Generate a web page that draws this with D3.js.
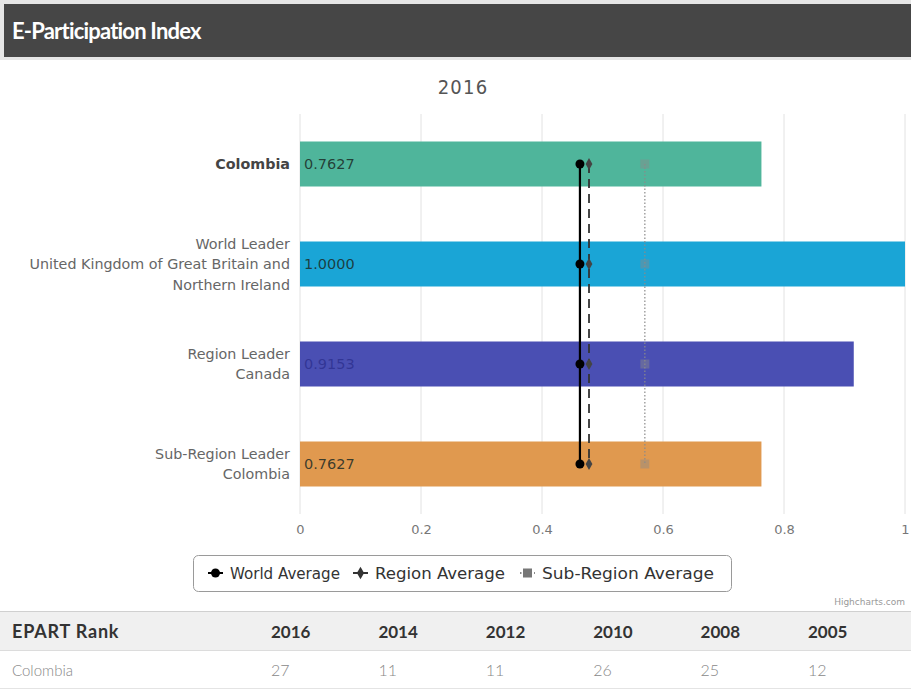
<!DOCTYPE html>
<html>
<head>
<meta charset="utf-8">
<script src="https://cdn.jsdelivr.net/npm/d3@7"></script>
<style>
  body { margin: 0; background: #fff; }
  svg { display: block; }
</style>
</head>
<body>
<div class="canvas"><svg></svg></div>
<script>
const categories = [
    ['Colombia'],
    ['World Leader', 'United Kingdom of Great Britain and', 'Northern Ireland'],
    ['Region Leader', 'Canada'],
    ['Sub-Region Leader', 'Colombia']
];
const values = [0.7627, 1.0000, 0.9153, 0.7627];
const barColors = ['#4fb59b', '#1aa5d6', '#4a4fb3', '#e0994f'];
const worldAverage = [0.4627, 0.4627, 0.4627, 0.4627];
const regionAverage = [0.4777, 0.4777, 0.4777, 0.4777];
const subRegionAverage = [0.5700, 0.5700, 0.5700, 0.5700];
const xTicks = [0, 0.2, 0.4, 0.6, 0.8, 1];
const rankYears = ['2016', '2014', '2012', '2010', '2008', '2005'];
const rankValues = [27, 11, 11, 26, 25, 12];

const width = 911
const height = 689
const svg = d3.select('.canvas').select('svg')
    .attr('width', width)
    .attr('height', height)

// panel header
svg.append('rect').attr('x', 0).attr('y', 0).attr('width', width).attr('height', 60).attr('fill', '#e6e6e6')
svg.append('rect').attr('x', 4).attr('y', 4).attr('width', width - 4).attr('height', 53).attr('fill', '#464646')
svg.append('rect').attr('x', 0).attr('y', 60).attr('width', width).attr('height', 550).attr('fill', '#fff')
svg.append('text')
    .attr('x', 12).attr('y', 39)
    .attr('fill', '#fff')
    .attr('font-family', 'Lato')
    .attr('font-weight', 'bold')
    .attr('font-size', 22)
    .attr('letter-spacing', -0.8)
    .text('E-Participation Index')

svg.append('text')
    .attr('x', 463).attr('y', 94)
    .attr('text-anchor', 'middle')
    .attr('fill', '#555')
    .attr('font-family', 'Liberation Sans Narrow, DejaVu Sans Condensed, sans-serif')
    .attr('font-size', 20)
    .attr('letter-spacing', 1.2)
    .text('2016')

const x = d3.scaleLinear().domain([0, 1]).range([300, 905])
const y = d3.scaleBand().domain(d3.range(categories.length)).range([114, 514]).paddingInner(0.55).paddingOuter(0.275)

const graph = svg.append('g')

// grid
graph.selectAll('.grid')
    .data(xTicks)
    .enter().append('line')
    .attr('x1', d => x(d)).attr('x2', d => x(d))
    .attr('y1', 114).attr('y2', 514)
    .attr('stroke', '#e2e2e2')
    .attr('stroke-width', 1)

// x axis
const xAxis = graph.append('g')
    .attr('transform', 'translate(0,514)')
    .call(d3.axisBottom(x).tickValues(xTicks).tickSize(0).tickPadding(11)
        .tickFormat(d => d === 0 || d === 1 ? d3.format('d')(d) : d3.format('.1f')(d)))
xAxis.select('.domain').remove()
xAxis.selectAll('text')
    .attr('fill', '#777')
    .attr('font-family', 'DejaVu Sans')
    .attr('font-size', 13)

// bars
graph.selectAll('.bar')
    .data(values)
    .enter().append('rect')
    .attr('x', x(0))
    .attr('y', (d, i) => y(i))
    .attr('width', d => x(d) - x(0))
    .attr('height', y.bandwidth())
    .attr('fill', (d, i) => barColors[i])

graph.selectAll('.barlabel')
    .data(values)
    .enter().append('text')
    .attr('x', x(0) + 4)
    .attr('y', (d, i) => y(i) + y.bandwidth() / 2 + 5)
    .attr('fill', (d, i) => i === 2 ? '#2e3190' : '#1c2b26')
    .attr('fill-opacity', 0.85)
    .attr('font-family', 'DejaVu Sans')
    .attr('font-size', 14.5)
    .text(d => d.toFixed(4))

// category labels
const catLabel = graph.selectAll('.cat')
    .data(categories)
    .enter().append('text')
    .attr('text-anchor', 'end')
    .attr('font-family', 'DejaVu Sans')
    .attr('font-size', 14.3)
    .attr('fill', (d, i) => i === 0 ? '#444' : '#666')
    .attr('font-weight', (d, i) => i === 0 ? 'bold' : 'normal')
catLabel.each(function (d, i) {
    const cy = y(i) + y.bandwidth() / 2
    const lh = 20.5
    const top = cy - (d.length - 1) * lh / 2 + 5
    d3.select(this).selectAll('tspan')
        .data(d)
        .enter().append('tspan')
        .attr('x', 290)
        .attr('y', (t, j) => top + j * lh)
        .text(t => t)
})

const cy = i => y(i) + y.bandwidth() / 2

// sub-region average (dotted)
graph.append('path')
    .datum(subRegionAverage)
    .attr('d', d3.line().x(d => x(d)).y((d, i) => cy(i)))
    .attr('fill', 'none')
    .attr('stroke', '#8a8a8a')
    .attr('stroke-width', 1.2)
    .attr('stroke-dasharray', '1.5,2')
graph.selectAll('.sq')
    .data(subRegionAverage)
    .enter().append('rect')
    .attr('x', d => x(d) - 4.5)
    .attr('y', (d, i) => cy(i) - 4.5)
    .attr('width', 9).attr('height', 9)
    .attr('fill', '#8a8a8a')
    .attr('fill-opacity', 0.45)

// region average (dashed)
graph.append('path')
    .datum(regionAverage)
    .attr('d', d3.line().x(d => x(d)).y((d, i) => cy(i)))
    .attr('fill', 'none')
    .attr('stroke', '#333')
    .attr('stroke-width', 1.8)
    .attr('stroke-dasharray', '9,6')
graph.selectAll('.dm')
    .data(regionAverage)
    .enter().append('path')
    .attr('d', d3.symbol().type(d3.symbolDiamond).size(40))
    .attr('transform', (d, i) => `translate(${x(d)},${cy(i)})`)
    .attr('fill', '#444')

// world average (solid)
graph.append('path')
    .datum(worldAverage)
    .attr('d', d3.line().x(d => x(d)).y((d, i) => cy(i)))
    .attr('fill', 'none')
    .attr('stroke', '#000')
    .attr('stroke-width', 2.2)
graph.selectAll('.wc')
    .data(worldAverage)
    .enter().append('circle')
    .attr('cx', d => x(d))
    .attr('cy', (d, i) => cy(i))
    .attr('r', 4.5)
    .attr('fill', '#000')

// legend
const legend = svg.append('g')
legend.append('rect')
    .attr('x', 193.5).attr('y', 555.5)
    .attr('width', 538).attr('height', 36)
    .attr('rx', 5)
    .attr('fill', '#fff')
    .attr('stroke', '#9a9a9a')
const legendItems = [
    { name: 'World Average', color: '#000', dash: null, shape: 'circle', tx: 230, w: 110 },
    { name: 'Region Average', color: '#333', dash: null, shape: 'diamond', tx: 375, w: 130 },
    { name: 'Sub-Region Average', color: '#8a8a8a', dash: '1.5,2', shape: 'square', tx: 542, w: 172 }
]
legendItems.forEach(it => {
    const g = legend.append('g')
    g.append('line')
        .attr('x1', it.tx - 22).attr('x2', it.tx - 7)
        .attr('y1', 573).attr('y2', 573)
        .attr('stroke', it.color)
        .attr('stroke-width', 2)
        .attr('stroke-dasharray', it.dash)
    const mx = it.tx - 14.5
    if (it.shape === 'circle') {
        g.append('circle').attr('cx', mx).attr('cy', 573).attr('r', 4.5).attr('fill', '#000')
    } else if (it.shape === 'diamond') {
        g.append('path').attr('d', d3.symbol().type(d3.symbolDiamond).size(45))
            .attr('transform', `translate(${mx},573)`).attr('fill', '#333')
    } else {
        g.append('rect').attr('x', mx - 4.5).attr('y', 568.5).attr('width', 9).attr('height', 9)
            .attr('fill', '#777')
    }
    g.append('text')
        .attr('x', it.tx).attr('y', 579)
        .attr('font-family', 'DejaVu Sans Condensed, DejaVu Sans')
        .attr('font-size', 16.5)
        .attr('fill', '#333')
        .attr('textLength', it.w)
        .attr('lengthAdjust', 'spacingAndGlyphs')
        .text(it.name)
})

svg.append('text')
    .attr('x', 905).attr('y', 605)
    .attr('text-anchor', 'end')
    .attr('font-family', 'DejaVu Sans')
    .attr('font-size', 9)
    .attr('fill', '#999')
    .text('Highcharts.com')

// rank table
const table = svg.append('g')
table.append('rect').attr('x', 0).attr('y', 612).attr('width', width).attr('height', 38).attr('fill', '#f0f0f0')
table.append('line').attr('x1', 0).attr('x2', width).attr('y1', 611.5).attr('y2', 611.5).attr('stroke', '#d0d0d0')
table.append('line').attr('x1', 0).attr('x2', width).attr('y1', 650.5).attr('y2', 650.5).attr('stroke', '#dcdcdc')
table.append('line').attr('x1', 0).attr('x2', width).attr('y1', 688.5).attr('y2', 688.5).attr('stroke', '#e4e4e4')

const colX = d3.scalePoint().domain(rankYears).range([271, 808])
table.append('text')
    .attr('x', 12).attr('y', 638)
    .attr('font-family', 'Lato').attr('font-weight', 'bold').attr('font-size', 18)
    .attr('letter-spacing', 0.8)
    .attr('fill', '#333')
    .text('EPART Rank')
table.selectAll('.yr')
    .data(rankYears)
    .enter().append('text')
    .attr('x', d => colX(d)).attr('y', 638)
    .attr('font-family', 'Lato').attr('font-weight', 'bold').attr('font-size', 17)
    .attr('fill', '#333')
    .text(d => d)
table.append('text')
    .attr('x', 12).attr('y', 676)
    .attr('font-family', 'Lato').attr('font-weight', 300).attr('font-size', 15)
    .attr('fill', '#888')
    .text('Colombia')
table.selectAll('.rk')
    .data(rankValues)
    .enter().append('text')
    .attr('x', (d, i) => colX(rankYears[i])).attr('y', 676)
    .attr('font-family', 'Lato').attr('font-weight', 300).attr('font-size', 16)
    .attr('fill', '#888')
    .text(d => d)
</script>
</body>
</html>
